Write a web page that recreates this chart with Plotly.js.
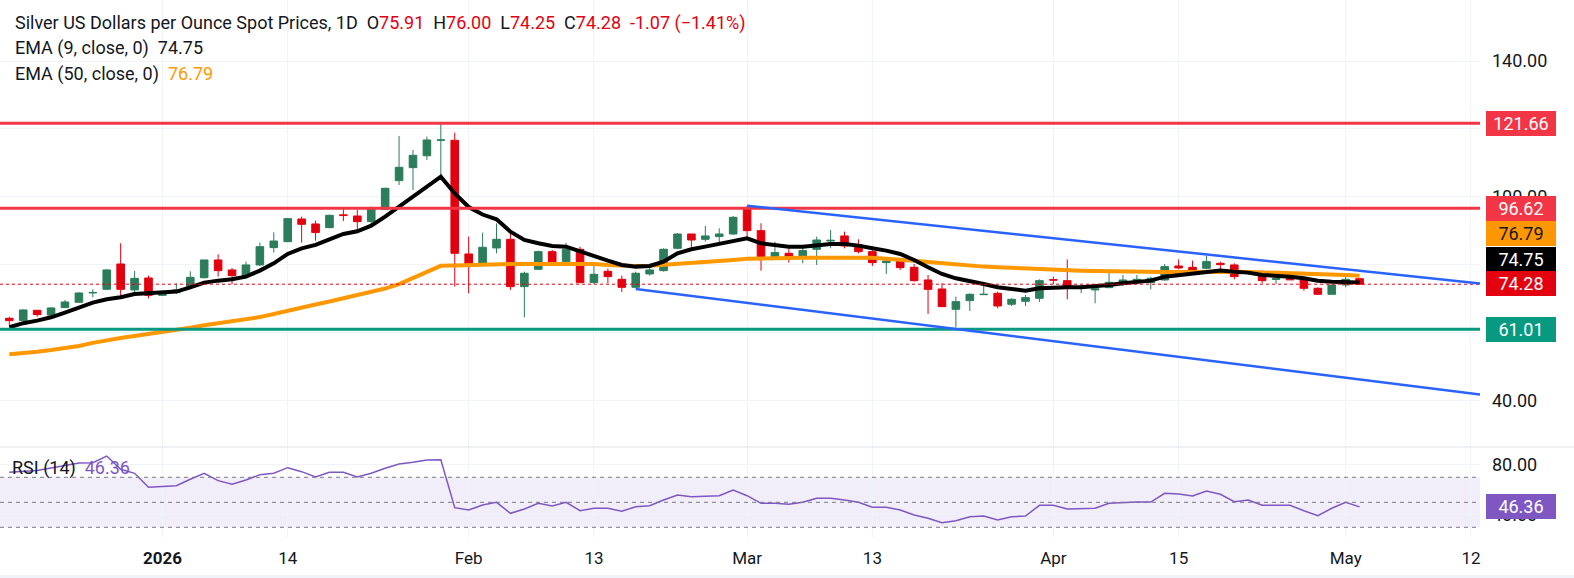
<!DOCTYPE html>
<html>
<head>
<meta charset="utf-8">
<script src="https://cdn.plot.ly/plotly-3.0.1.min.js"></script>
<style>html,body{margin:0;padding:0;background:#fff;}#chart{width:1574px;height:578px;}</style>
</head>
<body>
<div id="chart"></div>
<script>
// ---- Data ----
const openP  = [64.25,63.56,66.6,65.2,67.4,68.96,71.7,72.78,80.24,72.6,76.12,71.0,71.8,73.57,76.2,81.42,78.48,76.7,79.95,85.05,86.8,93.49,92.02,90.94,94.7,94.37,92.71,96.3,104.78,108.6,112.1,116.65,116.65,83.19,79.95,84.95,87.5,73.57,78.67,83.87,80.93,84.56,74.75,78.08,75.73,73.37,77.3,78.28,84.85,89.07,87.5,88.3,89.07,96.63,90.05,82.4,83.38,81.91,84.56,87.0,88.49,85.83,83.87,80.63,81.13,79.26,75.53,72.88,66.89,69.45,71.2,71.6,68.37,69.25,70.13,75.6,75.33,73.2,72.6,73.27,74.35,75.24,74.75,75.53,79.65,79.26,78.97,80.44,79.95,77.6,77.98,75.7,75.9,75.53,73.08,71.31,74.06,75.91];
const highP  = [64.7,66.9,66.6,67.5,69.65,71.9,72.78,78.67,86.33,78.18,76.8,71.9,74.55,78.1,81.42,83.09,79.06,80.93,86.52,89.56,93.8,94.18,93.0,94.76,96.43,96.14,97.12,102.7,117.93,113.8,117.73,121.66,118.91,88.29,89.47,92.2,90.06,77.98,84.17,84.36,86.52,85.34,79.95,78.87,76.8,77.98,79.46,84.85,89.27,89.1,91.43,90.74,94.37,97.32,92.21,86.82,84.85,85.34,88.29,90.25,89.76,87.5,85.54,81.91,81.91,80.24,77.0,74.55,70.62,71.6,74.55,72.1,70.13,71.11,75.73,76.51,81.6,74.06,73.7,77.69,77.0,77.0,76.51,80.24,81.6,81.22,82.6,80.93,80.44,78.48,78.28,76.02,76.51,76.02,73.37,74.06,77.29,76.00];
const lowP   = [62.3,63.5,64.7,65.2,67.4,68.96,70.43,72.6,70.82,71.8,70.13,70.9,71.4,73.1,76.0,76.5,74.35,76.02,79.65,83.58,86.8,86.52,87.1,90.74,92.9,90.45,91.72,96.3,103.5,102.03,110.86,106.44,73.57,71.6,79.46,83.38,72.6,64.54,78.48,80.24,80.44,74.55,74.35,74.55,72.0,73.08,76.8,77.98,84.56,85.15,86.82,86.13,88.78,87.3,78.28,81.91,80.63,80.44,79.95,84.85,84.85,83.38,79.65,77.3,78.48,75.04,65.52,67.68,61.6,66.4,71.1,67.2,67.87,67.87,69.06,74.35,69.84,71.6,68.66,73.08,73.77,74.75,72.78,75.33,78.67,78.28,78.67,78.67,75.73,77.0,74.55,74.35,75.53,72.39,71.11,71.31,73.37,74.25];
const closeP = [63.56,66.7,65.32,67.29,69.05,71.7,71.85,78.48,72.78,76.0,71.0,71.8,72.6,76.3,81.42,78.28,76.8,79.95,85.34,87.0,93.59,91.92,89.47,94.57,94.5,92.7,96.43,102.52,108.7,112.23,116.75,116.75,83.38,80.04,85.15,87.5,73.57,77.5,83.87,80.73,84.56,74.75,77.2,76.51,73.37,77.5,78.48,84.56,89.07,87.3,88.49,89.07,93.98,90.05,82.4,83.58,82.1,84.17,87.3,87.2,85.54,83.87,80.63,81.13,79.16,75.33,72.78,67.68,69.15,71.31,71.31,67.87,69.84,70.33,75.33,75.5,73.08,73.5,72.9,74.84,75.53,75.73,76.02,79.46,79.06,78.48,80.93,80.05,76.51,77.8,75.33,75.9,75.6,73.08,71.31,74.06,75.73,74.28];
const ema9   = [61.6,62.8,63.56,64.54,65.9,67.3,68.86,69.84,70.43,71.4,71.6,71.8,72.1,73.37,74.75,75.33,75.73,76.51,78.28,80.44,83.19,84.85,85.84,87.5,89.07,89.86,91.5,94.18,97.12,99.87,103.0,105.95,101.0,97.0,94.8,93.39,89.76,87.3,86.33,85.54,85.34,83.87,82.4,81.22,79.95,79.46,79.65,80.93,83.38,84.56,85.34,86.1,87.1,87.8,86.33,85.84,85.34,85.34,85.84,86.13,86.13,85.64,84.85,84.17,83.19,81.42,79.26,77.3,76.02,75.24,74.35,73.37,72.78,72.39,73.08,73.37,73.37,73.37,73.57,74.06,74.55,74.84,75.33,76.51,77.0,77.49,77.98,78.28,77.98,77.69,77.0,76.81,76.51,76.02,75.33,75.04,74.9,74.75];
const ema50  = [53.64,53.93,54.42,54.91,55.5,56.09,57.0,57.86,58.45,59.04,59.63,60.02,60.8,61.49,62.18,62.77,63.26,63.75,64.6,65.5,66.5,67.5,68.3,69.2,70.2,71.0,72.0,73.0,74.3,76.0,78.0,79.7,79.8,79.95,80.14,80.35,80.24,80.24,80.24,80.35,80.44,80.24,80.2,79.95,79.7,79.65,79.7,79.95,80.3,80.6,80.9,81.15,81.42,81.75,81.9,81.95,82.0,82.05,82.1,82.2,82.2,82.2,82.1,81.81,81.61,81.22,80.83,80.44,80.04,79.75,79.46,79.26,79.06,78.87,78.77,78.67,78.47,78.28,78.18,78.08,77.98,77.95,77.89,77.89,77.89,77.98,78.05,78.05,77.98,77.89,77.79,77.69,77.59,77.49,77.35,77.2,77.0,76.79];
const rsi14  = [74.0,74.5,75.5,77.5,79.5,81.5,81.7,87.0,76.4,73.2,62.0,62.5,63.3,68.4,73.2,67.3,64.4,67.8,72.1,73.2,77.7,74.5,70.2,74.0,74.0,70.2,73.2,77.2,80.6,82.0,83.8,84.0,45.7,43.8,47.8,50.0,41.2,44.6,49.2,47.0,50.0,43.3,45.2,45.2,42.8,46.5,47.3,51.8,55.8,54.5,55.0,55.3,59.8,55.3,49.2,49.2,48.4,50.0,53.2,53.2,51.8,50.0,46.0,46.0,43.8,39.8,37.2,33.7,35.3,38.5,39.0,35.8,38.5,39.0,47.6,47.6,44.6,44.6,45.2,49.2,50.0,50.2,50.2,57.2,56.6,55.0,59.0,56.4,50.5,51.8,47.6,47.8,47.6,43.3,39.3,45.2,50.0,46.36];

const tickBars  = [11, 20, 33, 42, 53, 62, 75, 84, 96, 105];
const tickLabels = ['<b>2026</b>', '14', 'Feb', '13', 'Mar', '13', 'Apr', '15', 'May', '12'];
const priceTicks = [40, 60, 80, 100, 120, 140];
const priceTickLabels = ['40.00', '', '', '100.00', '', '140.00'];   // 60/80/120 sit behind the value boxes
const rsiTicks = [40, 80];
const rsiTickLabels = ['40.00', '80.00'];

const resistance1 = 121.66, resistance2 = 96.62, support1 = 61.01, lastClose = 74.28;
const channelUpper = [[53, 97.4], [105.65, 74.5]];
const channelLower = [[45, 72.87], [105.65, 41.8]];
const lastEma9 = 74.75, lastEma50 = 76.79, lastRsi = 46.36;

// ---- Styles ----
const GREEN = '#2b7d5c', RED = '#e3000f', LINE_RED = '#f23645', TEAL = '#089981', BLUE = '#2962ff', ORANGE = '#ff9800', PURPLE = '#7e57c2';
const FONT = 'Roboto, "Liberation Sans", sans-serif';
const bars = closeP.map((_, i) => i);

const W = 1574, H = 578, ML = 0, MR = 94, MT = 0, MB = 41;
const PW = W - ML - MR, PH = H - MT - MB;
const mainBottomPx = 447; // separator between panes
const split = (PH - mainBottomPx) / PH;
const px2py = (y) => (PH - y) / PH; // pixel (from top) to paper y

const traces = [
  {type: 'candlestick', x: bars, open: openP, high: highP, low: lowP, close: closeP, xaxis: 'x', yaxis: 'y',
   increasing: {line: {color: GREEN, width: 1}, fillcolor: GREEN},
   decreasing: {line: {color: RED, width: 1}, fillcolor: RED},
   whiskerwidth: 0, hoverinfo: 'skip', showlegend: false},
  {type: 'scatter', mode: 'lines', x: bars, y: ema50, line: {color: ORANGE, width: 4}, xaxis: 'x', yaxis: 'y', hoverinfo: 'skip', showlegend: false},
  {type: 'scatter', mode: 'lines', x: bars, y: ema9, line: {color: '#000000', width: 4}, xaxis: 'x', yaxis: 'y', hoverinfo: 'skip', showlegend: false},
  {type: 'scatter', mode: 'lines', x: bars, y: rsi14, line: {color: PURPLE, width: 1.5}, xaxis: 'x', yaxis: 'y2', hoverinfo: 'skip', showlegend: false}
];

const hline = (y, color, width, dash, yref) => ({type: 'line', xref: 'paper', x0: 0, x1: 1, yref: yref || 'y', y0: y, y1: y, line: {color, width, dash: dash || 'solid'}});

const shapes = [
  {type: 'rect', xref: 'paper', x0: 0, x1: 1, yref: 'y2', y0: 30, y1: 70, fillcolor: 'rgba(126,87,194,0.10)', line: {width: 0}, layer: 'below'},
  hline(70, '#787b86', 1, '4px,4px', 'y2'),
  hline(50, '#787b86', 1, '4px,4px', 'y2'),
  hline(30, '#787b86', 1, '4px,4px', 'y2'),
  {type: 'line', xref: 'paper', x0: 0, x1: 1 + MR / PW, yref: 'paper', y0: split, y1: split, line: {color: '#e0e3eb', width: 1}},
  hline(lastClose, RED, 1, 'dot'),
  hline(resistance1, LINE_RED, 3),
  hline(resistance2, LINE_RED, 3),
  hline(support1, TEAL, 3),
  {type: 'line', xref: 'x', yref: 'y', x0: channelUpper[0][0], y0: channelUpper[0][1], x1: channelUpper[1][0], y1: channelUpper[1][1], line: {color: BLUE, width: 2.5}},
  {type: 'line', xref: 'x', yref: 'y', x0: channelLower[0][0], y0: channelLower[0][1], x1: channelLower[1][0], y1: channelLower[1][1], line: {color: BLUE, width: 2.5}},
  {type: 'rect', xref: 'paper', x0: -0.01, x1: 1.1, yref: 'paper', y0: px2py(575), y1: px2py(580), fillcolor: '#f0f3fa', line: {width: 0}}
];

const priceLabel = (val, yref, bg, fg, yshift) => ({
  xref: 'paper', x: 1, xanchor: 'left', xshift: 6, yref: yref, y: val, yanchor: 'middle', yshift: yshift || 0,
  text: val.toFixed(2), showarrow: false, bgcolor: bg, font: {family: FONT, size: 18, color: fg},
  width: 66, height: 21, borderpad: 2, borderwidth: 0, align: 'center'
});

const redTxt = (t) => `<span style="color:${RED}">${t}</span>`;
const NB = '\u00a0';
const G2 = NB + NB;
const annotations = [
  {xref: 'paper', yref: 'paper', x: 13 / PW, y: px2py(23), xanchor: 'left', yanchor: 'middle', showarrow: false,
   font: {family: FONT, size: 18, color: '#131722'},
   text: `Silver US Dollars per Ounce Spot Prices, 1D${G2}O${redTxt('75.91')}${G2}H${redTxt('76.00')}${G2}L${redTxt('74.25')}${G2}C${redTxt('74.28')}${G2}${redTxt('-1.07 (\u22121.41%)')}`},
  {xref: 'paper', yref: 'paper', x: 13 / PW, y: px2py(48), xanchor: 'left', yanchor: 'middle', showarrow: false,
   font: {family: FONT, size: 18, color: '#131722'}, text: `EMA (9, close, 0)${G2}${lastEma9.toFixed(2)}`},
  {xref: 'paper', yref: 'paper', x: 13 / PW, y: px2py(74), xanchor: 'left', yanchor: 'middle', showarrow: false,
   font: {family: FONT, size: 18, color: '#131722'}, text: `EMA (50, close, 0)${G2}<span style="color:${ORANGE}">${lastEma50.toFixed(2)}</span>`},
  {xref: 'paper', yref: 'paper', x: 10 / PW, y: px2py(468), xanchor: 'left', yanchor: 'middle', showarrow: false,
   font: {family: FONT, size: 18, color: '#131722'}, text: `RSI (14)${G2}<span style="color:${PURPLE}">${lastRsi.toFixed(2)}</span>`},
  priceLabel(resistance1, 'y', LINE_RED, '#ffffff'),
  priceLabel(resistance2, 'y', LINE_RED, '#ffffff'),
  priceLabel(lastEma50, 'y', ORANGE, '#131722', 42.4),
  priceLabel(lastEma9, 'y', '#000000', '#ffffff', 23.6),
  priceLabel(lastClose, 'y', RED, '#ffffff', 0.9),
  priceLabel(support1, 'y', TEAL, '#ffffff'),
  priceLabel(lastRsi, 'y2', PURPLE, '#ffffff')
];

const layout = {
  width: W, height: H, margin: {l: ML, r: MR, t: MT, b: MB, pad: 0},
  paper_bgcolor: '#ffffff', plot_bgcolor: '#ffffff', showlegend: false, hovermode: false,
  boxgap: 0.22,
  font: {family: FONT, size: 16, color: '#131722'},
  xaxis: {anchor: 'y2', range: [-0.668, 105.65], tickvals: tickBars, ticktext: tickLabels, showgrid: true, gridcolor: '#f0f3fa', gridwidth: 1,
          zeroline: false, showline: false, ticks: '', ticklabelstandoff: 9, tickfont: {family: FONT, size: 17, color: '#131722'},
          rangeslider: {visible: false}, fixedrange: true},
  yaxis: {domain: [split, 1], range: [26.35, 157.96], side: 'right', tickvals: priceTicks, ticktext: priceTickLabels,
          showgrid: true, gridcolor: '#f0f3fa', zeroline: false, showline: false, ticks: '', ticklabelstandoff: 11,
          tickfont: {family: FONT, size: 18, color: '#131722'}, fixedrange: true},
  yaxis2: {domain: [0, split], range: [22.24, 94.24], side: 'right', tickvals: rsiTicks, ticktext: rsiTickLabels,
           showgrid: true, gridcolor: '#f0f3fa', zeroline: false, showline: false, ticks: '', ticklabelstandoff: 11,
           tickfont: {family: FONT, size: 18, color: '#131722'}, fixedrange: true},
  shapes: shapes,
  annotations: annotations
};

Plotly.newPlot('chart', traces, layout, {staticPlot: true, displayModeBar: false});
</script>
</body>
</html>
